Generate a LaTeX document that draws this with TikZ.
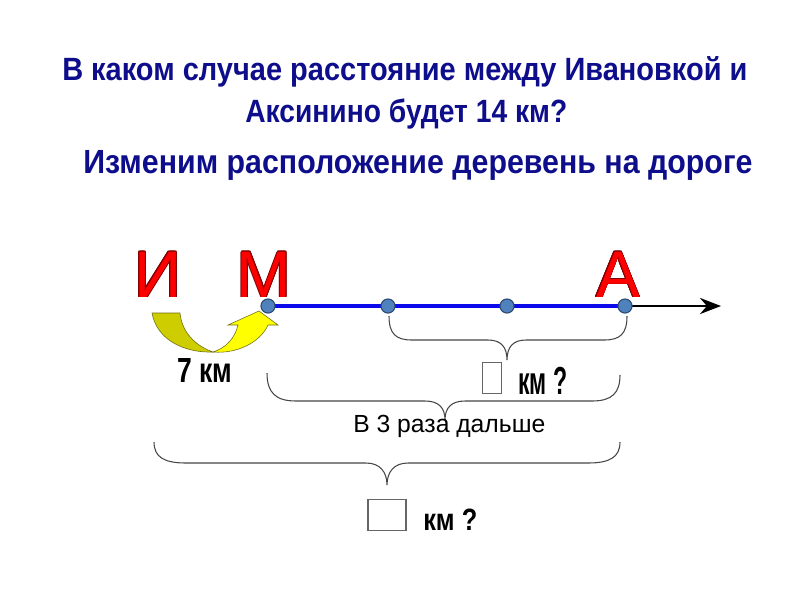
\documentclass[tikz,border=0pt]{standalone}
\usepackage{fontspec}
\setmainfont{Liberation Sans}
\usepackage{contour}
\usetikzlibrary{arrows.meta}
\definecolor{titleblue}{RGB}{14,14,140}
\definecolor{roadblue}{RGB}{10,10,235}
\definecolor{dotfill}{RGB}{79,129,189}
\definecolor{dotline}{RGB}{45,75,115}
\definecolor{letterred}{RGB}{255,0,0}
\definecolor{letteredge}{RGB}{130,0,0}
\definecolor{yelldark}{RGB}{205,205,0}
\definecolor{yelllight}{RGB}{255,255,0}
\definecolor{yelledge}{RGB}{110,110,20}
\definecolor{bracegray}{RGB}{70,70,70}
\newcommand\fitw[2]{\resizebox{#1}{\height}{#2}}
\contourlength{0.5pt}
\tikzset{
  txt/.style={inner sep=0pt, anchor=base west},
  titletxt/.style={txt, text=titleblue, font=\fontsize{22.9}{26}\selectfont\bfseries},
  villetter/.style={inner sep=0pt, anchor=base, text=letterred, font=\fontsize{46.7}{50}\selectfont},
  dot/.style={circle, fill=dotfill, draw=dotline, line width=0.8pt, minimum size=10pt, inner sep=0pt},
  road/.style={roadblue, line width=2.8pt},
  ray/.style={black, line width=1.4pt, -{Stealth[length=15pt,width=11.5pt,inset=5pt]}},
  pbrace/.style={bracegray, line width=0.75pt},
  qbox/.style={draw=gray!80!black, line width=0.8pt, fill=white},
}
\begin{document}
\begin{tikzpicture}[x=0.025cm, y=-0.025cm]
\useasboundingbox[fill=white] (0,0) rectangle (800,600);

% titles
\node[titletxt] (t1) at (62,80) {\fitw{487.3pt}{В каком случае расстояние между Ивановкой и}};
\node[titletxt] (t2) at (245,122) {\fitw{229.0pt}{Аксинино будет 14 км?}};
\node[titletxt, font=\fontsize{23.8}{27}\selectfont\bfseries] (t3) at (83,173) {\fitw{475.9pt}{Изменим расположение деревень на дороге}};

% village letters
\node[villetter] (LI) at (158,297) {\contour{letteredge}{И}};
\node[villetter] (LM) at (264,297) {\contour{letteredge}{М}};
\node[villetter] (LA) at (618,297) {\contour{letteredge}{А}};

% road
\coordinate (cM) at (268,306);
\coordinate (c2) at (388,306);
\coordinate (c3) at (507,306);
\coordinate (cA) at (625,306);
\coordinate (cEnd) at (721,306);
\draw[ray] (cA) -- (cEnd);
\draw[road] (cM) -- (cA);
\node[dot] (M) at (cM) {};
\node[dot] (P2) at (c2) {};
\node[dot] (P3) at (c3) {};
\node[dot] (A) at (cA) {};

% yellow curved arrow
\filldraw[fill=yelldark, draw=yelledge, line width=0.4pt]
  (152,313) .. controls (157,341) and (186,353) .. (213,352)
  .. controls (196,346) and (182,333) .. (180,313) -- cycle;
\filldraw[fill=yelllight, draw=yelledge, line width=0.4pt]
  (213,352) .. controls (226,348) and (235,338) .. (238,325)
  -- (228,325) -- (259,311) -- (278,325) -- (268,325)
  .. controls (260,343) and (236,354) .. (213,352) -- cycle;
\node[txt, font=\fontsize{24.8}{28}\selectfont\bfseries] (km7) at (177,382) {\fitw{39.1pt}{7 км}};

% brace 1 (under P2..A)
\draw[pbrace] (389,316) .. controls (389,334) and (396,340) .. (412,340)
  -- (488,340) .. controls (501,340) and (507,347) .. (507,360)
  .. controls (507,347) and (513,340) .. (526,340)
  -- (604,340) .. controls (620,340) and (627,334) .. (627,316);
\node[qbox, minimum width=14pt, minimum height=22pt, inner sep=0pt] (q1) at (492,378) {};
\node[txt, font=\fontsize{27.8}{30}\selectfont\bfseries] (km1) at (518,394) {\fitw{34.9pt}{км ?}};

% brace 2 (from M)
\draw[pbrace] (267,373) .. controls (267,393) and (276,401) .. (296,401)
  -- (425,401) .. controls (439,401) and (445,408) .. (445,420)
  .. controls (445,408) and (451,401) .. (465,401)
  -- (592,401) .. controls (612,401) and (620,393) .. (620,375);
\node[txt, font=\fontsize{17.6}{20}\selectfont] (far) at (353,432) {\fitw{136.6pt}{В 3 раза дальше}};

% brace 3 (whole)
\draw[pbrace] (154,442) .. controls (154,457) and (164,463) .. (186,463)
  -- (366,463) .. controls (380,463) and (387,472) .. (387,485)
  .. controls (387,472) and (394,463) .. (408,463)
  -- (588,463) .. controls (610,463) and (620,457) .. (620,442);
\node[qbox, minimum width=27pt, minimum height=22.5pt, inner sep=0pt] (q2) at (387,515) {};
\node[txt, font=\fontsize{21.9}{24}\selectfont\bfseries] (km2) at (423,530) {\fitw{38.4pt}{км ?}};
\end{tikzpicture}
\end{document}
